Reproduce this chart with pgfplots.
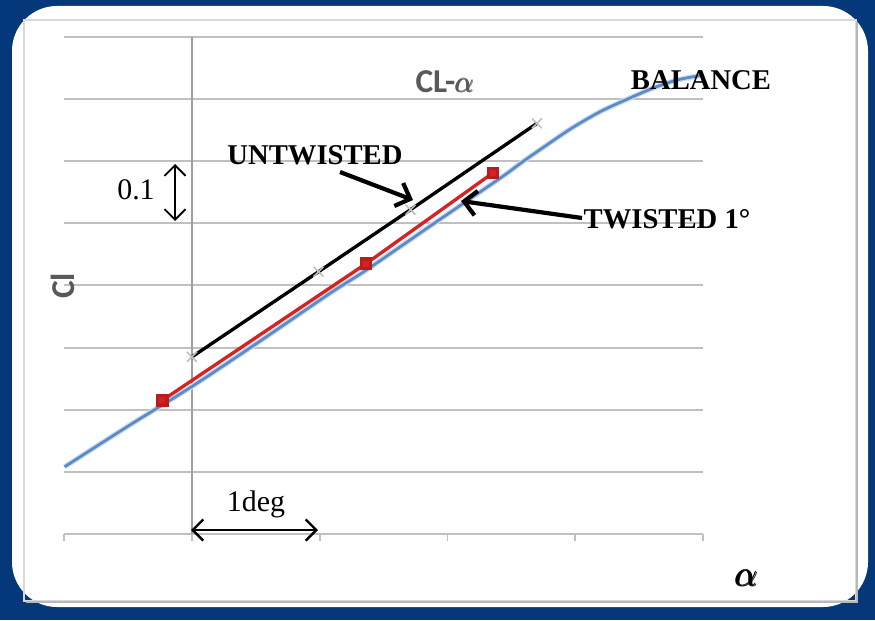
\documentclass[border=0pt]{standalone}
\usepackage{amsmath}
\usepackage{pgfplots}
\pgfplotsset{compat=1.18}
\usepackage{fontspec}
\setmainfont{Liberation Serif}
\newfontfamily\carlito{Carlito}
\usetikzlibrary{arrows.meta}

\definecolor{bgblue}{RGB}{4,56,122}
\definecolor{curveblue}{RGB}{92,140,200}
\definecolor{twred}{RGB}{214,34,34}
\definecolor{gridgray}{RGB}{192,192,192}
\definecolor{titlegray}{RGB}{89,89,89}

\begin{document}
\begin{tikzpicture}
  % background panel (coordinates in pixels, y downwards)
  \begin{scope}[x=0.02cm, y=-0.02cm, shift={(0cm,12.4cm)}]
    \fill[bgblue] (0,0) rectangle (875,620);
    \fill[white, rounded corners=0.9cm] (12,6) rectangle (868,607);
    \draw[gray!30, line width=0.6pt] (24,20) rectangle (856,601);
    \draw[gray!55, line width=1.4pt] (26,602) -- (857,602) -- (857,22);
  \end{scope}

  \begin{axis}[
      at={(1.284cm,1.72cm)}, anchor=south west,
      scale only axis,
      width=12.78cm, height=9.94cm,
      xmin=-1, xmax=4,
      ymin=0, ymax=0.8,
      axis x line*=bottom,
      axis y line*=left,
      y axis line style={draw=none},
      x axis line style={gridgray, line width=1.1pt},
      xtick={-1,0,1,2,3,4}, xticklabels={},
      tick align=outside,
      major tick length=0.14cm,
      xtick style={gridgray, line width=1pt},
      ytick={0.1,0.2,0.3,0.4,0.5,0.6,0.7,0.8}, yticklabels={},
      ytick style={draw=none},
      ymajorgrids,
      major grid style={gridgray, line width=1.1pt},
      clip=false,
    ]

    % alpha = 0 line
    \draw[gray!75, line width=0.8pt] (axis cs:0,0) -- (axis cs:0,0.8);

    % BALANCE
    \addplot[curveblue!30, line width=3pt, smooth] coordinates {
        (-0.997,0.108) (-0.496,0.174) (0.005,0.238) (0.537,0.311)
        (1.085,0.388) (1.366,0.425) (1.867,0.496) (2.414,0.573)
        (2.587,0.599) (2.790,0.628) (2.978,0.654) (3.197,0.680)
        (3.408,0.700) (3.612,0.718) (3.800,0.731) (3.980,0.738)
      };
    \addplot[curveblue, line width=1.6pt, smooth] coordinates {
        (-0.997,0.108) (-0.496,0.174) (0.005,0.238) (0.537,0.311)
        (1.085,0.388) (1.366,0.425) (1.867,0.496) (2.414,0.573)
        (2.587,0.599) (2.790,0.628) (2.978,0.654) (3.197,0.680)
        (3.408,0.700) (3.612,0.718) (3.800,0.731) (3.980,0.738)
      };

    % UNTWISTED
    \addplot[only marks, mark=x, mark size=4pt,
      mark options={gray!50, line width=0.9pt}] coordinates {
        (0.00,0.285) (0.99,0.422) (1.71,0.522) (2.70,0.661)
      };
    \addplot[black, line width=1.9pt] coordinates {
        (0.00,0.285) (0.99,0.422) (1.71,0.522) (2.70,0.661)
      };

    % TWISTED 1 deg
    \addplot[twred, line width=1.9pt, mark=square*, mark size=2.6pt,
      mark options={fill=twred, draw=twred!85!black}] coordinates {
        (-0.232,0.215) (1.362,0.435) (2.354,0.581)
      };
  \end{axis}

  % annotations (pixels, y downwards)
  \begin{scope}[x=0.02cm, y=-0.02cm, shift={(0cm,12.4cm)}]
    \node[font=\carlito\bfseries\fontsize{19}{21}\selectfont, titlegray]
      at (445,82) {CL-$\pmb{\alpha}$};
    \node[rotate=90, font=\carlito\bfseries\fontsize{19}{21}\selectfont, titlegray]
      at (63,286) {Cl};
    \node[font=\fontsize{20}{22}\selectfont] at (747,578) {$\pmb{\alpha}$};

    \node[font=\bfseries\fontsize{16.3}{18}\selectfont] at (701,80) {BALANCE};
    \node[font=\bfseries\fontsize{16.3}{18}\selectfont] at (315,155) {UNTWISTED};
    \node[font=\bfseries\fontsize{16.3}{18}\selectfont] at (667,219) {TWISTED 1°};

    \draw[line width=2.4pt, -{Straight Barb[length=7pt,width=14pt]}]
      (340,172) -- (413,200);
    \draw[line width=2.4pt, -{Straight Barb[length=7pt,width=14pt]}]
      (582,218) -- (461,201);

    \node[font=\fontsize{17}{19}\selectfont] at (136,190) {0.1};
    \draw[line width=1.1pt,
      {Straight Barb[length=6pt,width=12pt]}-{Straight Barb[length=6pt,width=12pt]}]
      (175,164) -- (175,221);

    \node[font=\fontsize{17}{19}\selectfont, anchor=base] at (256,511) {1deg};
    \draw[line width=1.4pt,
      {Straight Barb[length=6pt,width=12pt]}-{Straight Barb[length=6pt,width=12pt]}]
      (191,530) -- (318,530);
  \end{scope}
\end{tikzpicture}
\end{document}
